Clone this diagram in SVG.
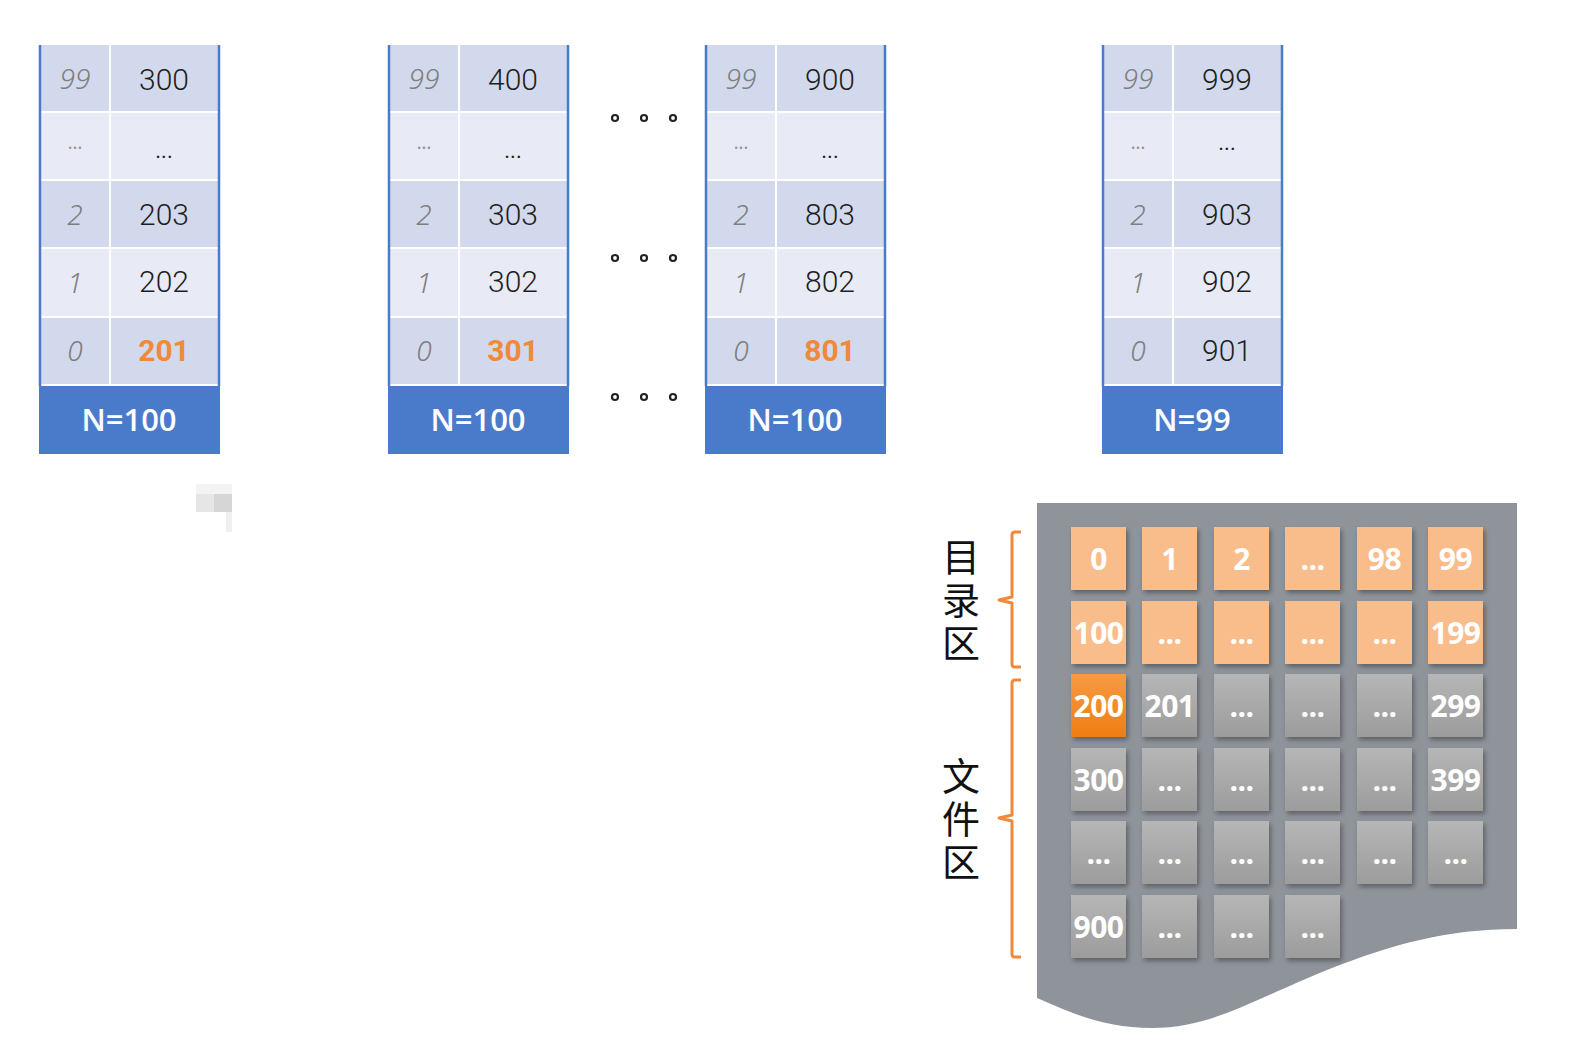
<svg xmlns="http://www.w3.org/2000/svg" width="1590" height="1040" viewBox="0 0 1590 1040">
<defs>
<style>
.dk{fill:#d3d9ec}
.lt{fill:#e8ebf5}
.nb{fill:#4a7bcb}
.side{stroke:#4a7bcb;stroke-width:2.5;fill:none}
.ix{font-family:"Noto Sans","DejaVu Sans",sans-serif;font-style:italic;font-weight:300;font-size:28px;fill:#7e7e7e;text-anchor:middle}
.ixd{font-family:"Noto Sans","DejaVu Sans",sans-serif;font-size:18px;fill:#909090;text-anchor:middle}
.v{font-family:Roboto,"Noto Sans",sans-serif;font-weight:300;font-size:30px;fill:#1e1e1e;text-anchor:middle}
.vd{font-family:Roboto,"Noto Sans",sans-serif;font-weight:400;font-size:22px;fill:#1e1e1e;text-anchor:middle}
.vo{font-family:Roboto,"Noto Sans",sans-serif;font-size:30px;font-weight:700;fill:#f0893a;text-anchor:middle}
.n{font-family:"Open Sans","Noto Sans",sans-serif;font-size:31px;font-weight:600;fill:#ffffff;text-anchor:middle}
.ring{fill:none;stroke:#222;stroke-width:2.2}
.tl{fill:#f9bd8c}
.tg{fill:url(#gg)}
.to{fill:url(#go)}
.tt{font-family:"Open Sans","Noto Sans",sans-serif;font-size:30px;font-weight:700;fill:#ffffff;text-anchor:middle;letter-spacing:-0.5px}
.br{fill:none;stroke:#f0893a;stroke-width:3;stroke-linejoin:round}
.cj{font-family:"Noto Sans CJK SC","Noto Sans",sans-serif;font-size:38px;fill:#111;text-anchor:middle;letter-spacing:5px}
</style>
<linearGradient id="gg" x1="0" y1="0" x2="0" y2="1">
<stop offset="0" stop-color="#b6b6b6"/>
<stop offset="1" stop-color="#9c9c9c"/>
</linearGradient>
<linearGradient id="go" x1="0" y1="0" x2="0" y2="1">
<stop offset="0" stop-color="#f79a44"/>
<stop offset="1" stop-color="#ef7d12"/>
</linearGradient>
<filter id="sh" x="-20%" y="-20%" width="150%" height="150%">
<feDropShadow dx="2" dy="3" stdDeviation="2.5" flood-color="#000" flood-opacity="0.35"/>
</filter>
</defs>
<rect width="1590" height="1040" fill="#ffffff"/>

<!-- Table 1 -->
<g id="table1" transform="translate(39,0)">
<rect class="dk" x="0" y="45" width="70" height="66"/><rect class="dk" x="72" y="45" width="109" height="66"/>
<rect class="lt" x="0" y="113" width="70" height="66"/><rect class="lt" x="72" y="113" width="109" height="66"/>
<rect class="dk" x="0" y="181" width="70" height="66"/><rect class="dk" x="72" y="181" width="109" height="66"/>
<rect class="lt" x="0" y="249" width="70" height="67"/><rect class="lt" x="72" y="249" width="109" height="67"/>
<rect class="dk" x="0" y="318" width="70" height="66"/><rect class="dk" x="72" y="318" width="109" height="66"/>
<rect class="nb" x="0" y="386" width="181" height="68"/>
<line class="side" x1="1" y1="45" x2="1" y2="386"/><line class="side" x1="180" y1="45" x2="180" y2="386"/>
<text class="ix" x="36" y="89">99</text><text class="v" x="125" y="90">300</text>
<text class="ixd" x="36" y="149">...</text><text class="vd" x="125" y="158">...</text>
<text class="ix" x="36" y="225">2</text><text class="v" x="125" y="225">203</text>
<text class="ix" x="36" y="293">1</text><text class="v" x="125" y="292">202</text>
<text class="ix" x="36" y="361">0</text><text class="vo" x="125" y="361">201</text>
<text class="n" x="90" y="431">N=100</text>
</g>

<!-- Table 2 -->
<g id="table2" transform="translate(388,0)">
<rect class="dk" x="0" y="45" width="70" height="66"/><rect class="dk" x="72" y="45" width="109" height="66"/>
<rect class="lt" x="0" y="113" width="70" height="66"/><rect class="lt" x="72" y="113" width="109" height="66"/>
<rect class="dk" x="0" y="181" width="70" height="66"/><rect class="dk" x="72" y="181" width="109" height="66"/>
<rect class="lt" x="0" y="249" width="70" height="67"/><rect class="lt" x="72" y="249" width="109" height="67"/>
<rect class="dk" x="0" y="318" width="70" height="66"/><rect class="dk" x="72" y="318" width="109" height="66"/>
<rect class="nb" x="0" y="386" width="181" height="68"/>
<line class="side" x1="1" y1="45" x2="1" y2="386"/><line class="side" x1="180" y1="45" x2="180" y2="386"/>
<text class="ix" x="36" y="89">99</text><text class="v" x="125" y="90">400</text>
<text class="ixd" x="36" y="149">...</text><text class="vd" x="125" y="158">...</text>
<text class="ix" x="36" y="225">2</text><text class="v" x="125" y="225">303</text>
<text class="ix" x="36" y="293">1</text><text class="v" x="125" y="292">302</text>
<text class="ix" x="36" y="361">0</text><text class="vo" x="125" y="361">301</text>
<text class="n" x="90" y="431">N=100</text>
</g>

<!-- Table 3 -->
<g id="table3" transform="translate(705,0)">
<rect class="dk" x="0" y="45" width="70" height="66"/><rect class="dk" x="72" y="45" width="109" height="66"/>
<rect class="lt" x="0" y="113" width="70" height="66"/><rect class="lt" x="72" y="113" width="109" height="66"/>
<rect class="dk" x="0" y="181" width="70" height="66"/><rect class="dk" x="72" y="181" width="109" height="66"/>
<rect class="lt" x="0" y="249" width="70" height="67"/><rect class="lt" x="72" y="249" width="109" height="67"/>
<rect class="dk" x="0" y="318" width="70" height="66"/><rect class="dk" x="72" y="318" width="109" height="66"/>
<rect class="nb" x="0" y="386" width="181" height="68"/>
<line class="side" x1="1" y1="45" x2="1" y2="386"/><line class="side" x1="180" y1="45" x2="180" y2="386"/>
<text class="ix" x="36" y="89">99</text><text class="v" x="125" y="90">900</text>
<text class="ixd" x="36" y="149">...</text><text class="vd" x="125" y="158">...</text>
<text class="ix" x="36" y="225">2</text><text class="v" x="125" y="225">803</text>
<text class="ix" x="36" y="293">1</text><text class="v" x="125" y="292">802</text>
<text class="ix" x="36" y="361">0</text><text class="vo" x="125" y="361">801</text>
<text class="n" x="90" y="431">N=100</text>
</g>

<!-- Table 4 -->
<g id="table4" transform="translate(1102,0)">
<rect class="dk" x="0" y="45" width="70" height="66"/><rect class="dk" x="72" y="45" width="109" height="66"/>
<rect class="lt" x="0" y="113" width="70" height="66"/><rect class="lt" x="72" y="113" width="109" height="66"/>
<rect class="dk" x="0" y="181" width="70" height="66"/><rect class="dk" x="72" y="181" width="109" height="66"/>
<rect class="lt" x="0" y="249" width="70" height="67"/><rect class="lt" x="72" y="249" width="109" height="67"/>
<rect class="dk" x="0" y="318" width="70" height="66"/><rect class="dk" x="72" y="318" width="109" height="66"/>
<rect class="nb" x="0" y="386" width="181" height="68"/>
<line class="side" x1="1" y1="45" x2="1" y2="386"/><line class="side" x1="180" y1="45" x2="180" y2="386"/>
<text class="ix" x="36" y="89">99</text><text class="v" x="125" y="90">999</text>
<text class="ixd" x="36" y="149">...</text><text class="vd" x="125" y="150">...</text>
<text class="ix" x="36" y="225">2</text><text class="v" x="125" y="225">903</text>
<text class="ix" x="36" y="293">1</text><text class="v" x="125" y="292">902</text>
<text class="ix" x="36" y="361">0</text><text class="v" x="125" y="361">901</text>
<text class="n" x="90" y="431">N=99</text>
</g>

<!-- ellipsis rings -->
<g id="ellipsis">
<circle class="ring" cx="615" cy="118" r="3"/><circle class="ring" cx="644" cy="118" r="3"/><circle class="ring" cx="673" cy="118" r="3"/>
<circle class="ring" cx="615" cy="258" r="3"/><circle class="ring" cx="644" cy="258" r="3"/><circle class="ring" cx="673" cy="258" r="3"/>
<circle class="ring" cx="615" cy="397" r="3"/><circle class="ring" cx="644" cy="397" r="3"/><circle class="ring" cx="673" cy="397" r="3"/>
</g>

<!-- faint artifact -->
<g id="artifact">
<rect x="196" y="484" width="36" height="10" fill="#f3f3f3"/>
<rect x="196" y="494" width="18" height="18" fill="#e6e6e6"/>
<rect x="214" y="494" width="18" height="18" fill="#d6d6d6"/>
<rect x="226" y="512" width="6" height="20" fill="#f0f0f0"/>
</g>

<!-- disk panel -->
<g id="disk">
<path d="M1037,503 H1517 V929 C1445,929 1392,945 1332,968 C1252,1000 1212,1028 1152,1028 C1102,1028 1070,1012 1037,998 Z" fill="#8f949b"/>
</g>

<g id="tiles" filter="url(#sh)">
<rect class="tl" x="1071" y="527" width="55" height="63"/>
<rect class="tl" x="1142" y="527" width="55" height="63"/>
<rect class="tl" x="1214" y="527" width="55" height="63"/>
<rect class="tl" x="1285" y="527" width="55" height="63"/>
<rect class="tl" x="1357" y="527" width="55" height="63"/>
<rect class="tl" x="1428" y="527" width="55" height="63"/>
<rect class="tl" x="1071" y="601" width="55" height="63"/>
<rect class="tl" x="1142" y="601" width="55" height="63"/>
<rect class="tl" x="1214" y="601" width="55" height="63"/>
<rect class="tl" x="1285" y="601" width="55" height="63"/>
<rect class="tl" x="1357" y="601" width="55" height="63"/>
<rect class="tl" x="1428" y="601" width="55" height="63"/>
<rect class="to" x="1071" y="674" width="55" height="63"/>
<rect class="tg" x="1142" y="674" width="55" height="63"/>
<rect class="tg" x="1214" y="674" width="55" height="63"/>
<rect class="tg" x="1285" y="674" width="55" height="63"/>
<rect class="tg" x="1357" y="674" width="55" height="63"/>
<rect class="tg" x="1428" y="674" width="55" height="63"/>
<rect class="tg" x="1071" y="748" width="55" height="63"/>
<rect class="tg" x="1142" y="748" width="55" height="63"/>
<rect class="tg" x="1214" y="748" width="55" height="63"/>
<rect class="tg" x="1285" y="748" width="55" height="63"/>
<rect class="tg" x="1357" y="748" width="55" height="63"/>
<rect class="tg" x="1428" y="748" width="55" height="63"/>
<rect class="tg" x="1071" y="821" width="55" height="63"/>
<rect class="tg" x="1142" y="821" width="55" height="63"/>
<rect class="tg" x="1214" y="821" width="55" height="63"/>
<rect class="tg" x="1285" y="821" width="55" height="63"/>
<rect class="tg" x="1357" y="821" width="55" height="63"/>
<rect class="tg" x="1428" y="821" width="55" height="63"/>
<rect class="tg" x="1071" y="895" width="55" height="63"/>
<rect class="tg" x="1142" y="895" width="55" height="63"/>
<rect class="tg" x="1214" y="895" width="55" height="63"/>
<rect class="tg" x="1285" y="895" width="55" height="63"/>
</g>

<g id="tile-labels">
<text class="tt" x="1098.5" y="570">0</text>
<text class="tt" x="1169.5" y="570">1</text>
<text class="tt" x="1241.5" y="570">2</text>
<text class="tt" x="1312.5" y="570">...</text>
<text class="tt" x="1384.5" y="570">98</text>
<text class="tt" x="1455.5" y="570">99</text>

<text class="tt" x="1098.5" y="644">100</text>
<text class="tt" x="1169.5" y="644">...</text>
<text class="tt" x="1241.5" y="644">...</text>
<text class="tt" x="1312.5" y="644">...</text>
<text class="tt" x="1384.5" y="644">...</text>
<text class="tt" x="1455.5" y="644">199</text>

<text class="tt" x="1098.5" y="717">200</text>
<text class="tt" x="1169.5" y="717">201</text>
<text class="tt" x="1241.5" y="717">...</text>
<text class="tt" x="1312.5" y="717">...</text>
<text class="tt" x="1384.5" y="717">...</text>
<text class="tt" x="1455.5" y="717">299</text>

<text class="tt" x="1098.5" y="791">300</text>
<text class="tt" x="1169.5" y="791">...</text>
<text class="tt" x="1241.5" y="791">...</text>
<text class="tt" x="1312.5" y="791">...</text>
<text class="tt" x="1384.5" y="791">...</text>
<text class="tt" x="1455.5" y="791">399</text>

<text class="tt" x="1098.5" y="864">...</text>
<text class="tt" x="1169.5" y="864">...</text>
<text class="tt" x="1241.5" y="864">...</text>
<text class="tt" x="1312.5" y="864">...</text>
<text class="tt" x="1384.5" y="864">...</text>
<text class="tt" x="1455.5" y="864">...</text>

<text class="tt" x="1098.5" y="938">900</text>
<text class="tt" x="1169.5" y="938">...</text>
<text class="tt" x="1241.5" y="938">...</text>
<text class="tt" x="1312.5" y="938">...</text>
</g>

<!-- brackets and labels -->
<g id="bracket-dir">
<path class="br" d="M1021,532 H1015 Q1012,532 1012,535 V597 L999,600 L1012,603 V664 Q1012,667 1015,667 H1021"/>
<text class="cj" x="961" y="602" writing-mode="vertical-rl">目录区</text>
</g>
<g id="bracket-file">
<path class="br" d="M1021,680 H1015 Q1012,680 1012,683 V815 L999,818 L1012,821 V954 Q1012,957 1015,957 H1021"/>
<text class="cj" x="961" y="821" writing-mode="vertical-rl">文件区</text>
</g>
</svg>
